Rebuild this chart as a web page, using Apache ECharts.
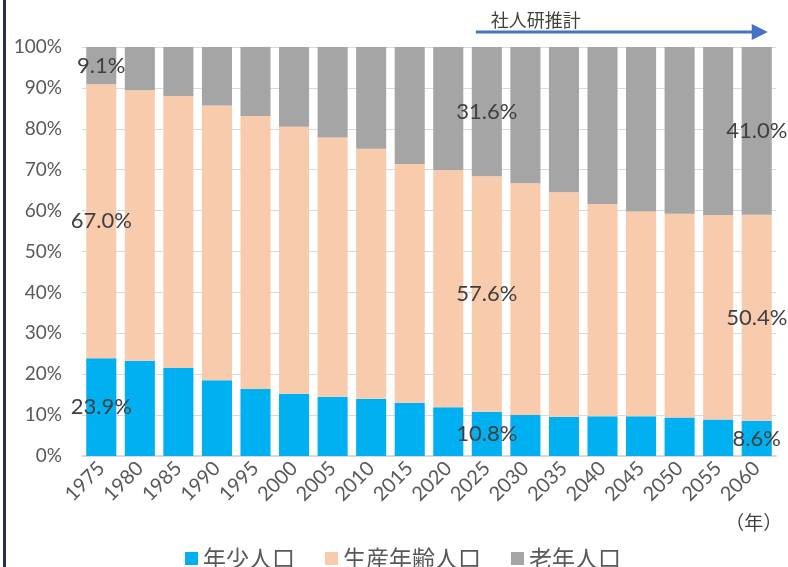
<!DOCTYPE html>
<html>
<head>
<meta charset="utf-8">
<script src="https://cdn.jsdelivr.net/npm/echarts@6/dist/echarts.min.js"></script>
<style>
  html, body { margin: 0; padding: 0; background: #fff; }
  #chart { width: 788px; height: 567px; }
</style>
</head>
<body>
<div id="chart"></div>
<script>
// 年齢3区分別人口割合（%）
var years = ['1975','1980','1985','1990','1995','2000','2005','2010','2015',
             '2020','2025','2030','2035','2040','2045','2050','2055','2060'];
var youngPct   = [23.9, 23.3, 21.5, 18.5, 16.4, 15.2, 14.5, 14.0, 13.0,
                  11.9, 10.8, 10.0, 9.6, 9.7, 9.7, 9.4, 8.9, 8.6];
var workingPct = [67.0, 66.1, 66.5, 67.2, 66.7, 65.3, 63.4, 61.1, 58.4,
                  58.0, 57.6, 56.7, 54.9, 51.9, 50.1, 49.8, 50.0, 50.4];
var elderlyPct = [9.1, 10.6, 12.0, 14.3, 16.9, 19.5, 22.1, 24.9, 28.6,
                  30.1, 31.6, 33.3, 35.5, 38.4, 40.2, 40.8, 41.1, 41.0];
var seriesNames = ['年少人口', '生産年齢人口', '老年人口'];
var yTicks = [0, 10, 20, 30, 40, 50, 60, 70, 80, 90, 100];
var labelYears = ['1975', '2025', '2060'];   // ラベル表示する年
var projStart = '2025', projEnd = '2060';    // 社人研推計の範囲

var FONT = 'Lato, "Noto Sans CJK JP", sans-serif';
var JP_FONT = '"Noto Sans CJK JP", sans-serif';

function toData(arr){
	return arr.map(function(v, i){
		var show = labelYears.indexOf(years[i]) >= 0;
		return { value: v, label: { show: show } };
	});
}

function barSeries(name, arr, color){
	return {
		name: name,
		type: 'bar',
		stack: 'total',
		barCategoryGap: '22%',
		itemStyle: { color: color },
		label: {
			show: false,
			position: 'inside',
			color: '#404040',
			fontSize: 22,
			fontFamily: FONT,
			formatter: function(p){ return p.value.toFixed(1) + '%'; }
		},
		emphasis: { disabled: true },
		data: toData(arr)
	};
}

var myChart = echarts.init(document.getElementById('chart'));
var opt = {
	animation: false,
	grid: { left: 82, right: 12, top: 47, bottom: 111 },
	legend: {
		data: seriesNames,
		left: 180,
		top: 542,
		itemWidth: 13,
		itemHeight: 13,
		itemGap: 30,
		icon: 'rect',
		textStyle: { color: '#595959', fontSize: 23, fontFamily: JP_FONT }
	},
	xAxis: {
		type: 'category',
		data: years,
		axisTick: { show: false },
		axisLine: { lineStyle: { color: '#d9d9d9', width: 2 } },
		axisLabel: {
			interval: 0,
			rotate: 45,
			margin: 9,
			color: '#595959',
			fontSize: 20,
			fontFamily: FONT
		}
	},
	yAxis: {
		type: 'value',
		min: yTicks[0],
		max: yTicks[yTicks.length - 1],
		interval: yTicks[1] - yTicks[0],
		axisLine: { show: false },
		axisTick: { show: false },
		splitLine: { lineStyle: { color: '#d9d9d9', width: 1 } },
		axisLabel: {
			margin: 20,
			color: '#595959',
			fontSize: 19,
			fontFamily: FONT,
			formatter: '{value}%'
		}
	},
	series: [
		barSeries(seriesNames[0], youngPct, '#00b0f0'),
		barSeries(seriesNames[1], workingPct, '#f8cbad'),
		barSeries(seriesNames[2], elderlyPct, '#a5a5a5')
	]
};
myChart.setOption(opt);

// 社人研推計の矢印と注記（軸位置から算出）
var xs = myChart.convertToPixel({ xAxisIndex: 0 }, projStart) - 11;
var xe = myChart.convertToPixel({ xAxisIndex: 0 }, projEnd) + 11;
var xLast = myChart.convertToPixel({ xAxisIndex: 0 }, years[years.length - 1]);
var arrowY = 32;
myChart.setOption({
	graphic: [
		{ type: 'rect', shape: { x: 3, y: 0, width: 3, height: 567 }, style: { fill: '#24324f' } },
		{ type: 'line', shape: { x1: xs, y1: arrowY, x2: xe - 14, y2: arrowY },
		  style: { stroke: '#4472c4', lineWidth: 3 } },
		{ type: 'polygon', shape: { points: [[xe - 16, arrowY - 8], [xe, arrowY], [xe - 16, arrowY + 8]] },
		  style: { fill: '#4472c4' } },
		{ type: 'text', x: xs + 15, y: 20,
		  style: { text: '社人研推計', fill: '#404040', font: '18px ' + JP_FONT, verticalAlign: 'middle' } },
		{ type: 'text', x: xLast - 3, y: 523,
		  style: { text: '（年）', fill: '#404040', font: '19px ' + JP_FONT, align: 'center', verticalAlign: 'middle' } }
	]
});
</script>
</body>
</html>
